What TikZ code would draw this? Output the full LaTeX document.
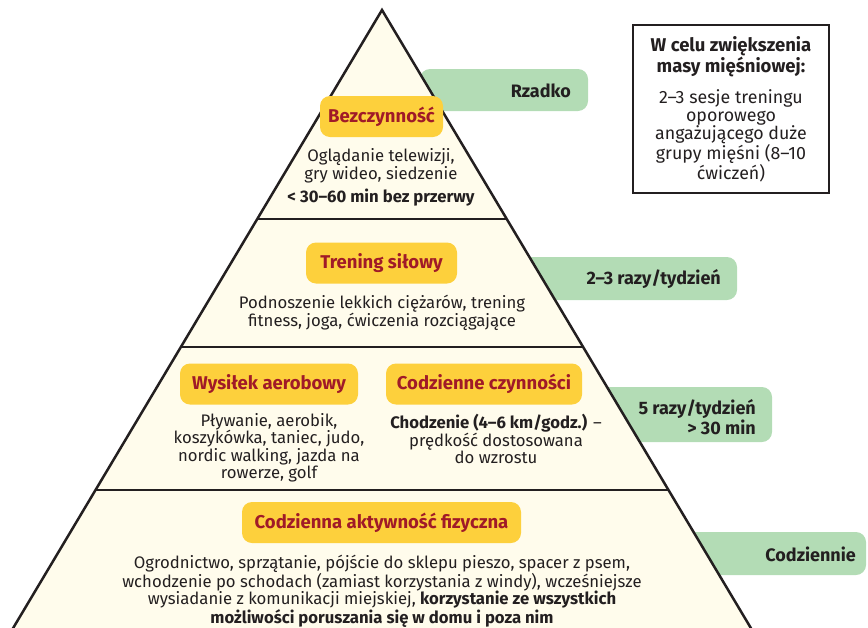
\documentclass[tikz,border=0pt]{standalone}
\usepackage{fontspec}
\setmainfont{Fira Sans}
\usetikzlibrary{calc}

\definecolor{cream}{RGB}{255,252,236}
\definecolor{pillyellow}{RGB}{253,208,60}
\definecolor{pilltext}{RGB}{160,26,40}
\definecolor{tabgreen}{RGB}{179,220,181}
\definecolor{ink}{RGB}{35,31,32}

\begin{document}
\begin{tikzpicture}[x=1pt, y=-1pt,
	pill/.style={fill=pillyellow, rounded corners=10pt, minimum height=41pt, inner sep=0pt, text=pilltext, font=\fontsize{18.5}{20}\selectfont\bfseries},
	body/.style={text=ink, align=center, inner sep=0pt, font=\fontsize{16.7}{17.5}\selectfont},
	tab/.style={fill=tabgreen, rounded corners=10pt},
	tablabel/.style={text=ink, anchor=east, align=right, inner sep=0pt, font=\fontsize{18}{19.5}\selectfont\bfseries},
	divider/.style={draw=ink, line width=2pt}]
	\useasboundingbox (0,0) rectangle (868,627);

	% frequency tabs, they sit under the pyramid
	\fill[tab] (420,69) rectangle (588,111);
	\fill[tab] (520,257) rectangle (737,300);
	\fill[tab] (600,387) rectangle (772,442);
	\fill[tab] (680,532) rectangle (866,575);
	\node[tablabel] (rzadko) at (571,91) {Rzadko};
	\node[tablabel] (dwaTrzy) at (721,279) {2–3 razy/tydzień};
	\node[tablabel] (piecRazy) at (756,417) {5 razy/tydzień\\> 30 min};
	\node[tablabel] (codziennie) at (856,554) {Codziennie};

	% pyramid
	\coordinate (top) at (382,10);
	\coordinate (bl) at (6,640);
	\coordinate (br) at (758,640);
	\draw[draw=ink, fill=cream, line width=2.5pt] (bl) -- (top) -- (br) -- cycle;
	\draw[divider] ($(top)!0.332!(bl)$) -- ($(top)!0.332!(br)$);
	\draw[divider] ($(top)!0.535!(bl)$) -- ($(top)!0.535!(br)$);
	\draw[divider] ($(top)!0.762!(bl)$) -- ($(top)!0.762!(br)$);

	% top level
	\node[pill, minimum width=123pt] (bezcz) at (381.5,116.5) {Bezczynność};
	\node[body] (bezczTxt) at (381,166) {Oglądanie telewizji,\\gry wideo, siedzenie};
	\node[body, font=\fontsize{16.7}{17.5}\selectfont\bfseries] (bezczLimit) at (381,198) {< 30–60 min bez przerwy};

	% second level
	\node[pill, minimum width=151pt] (trening) at (381.5,263) {Trening siłowy};
	\node[body] (treningTxt) at (382,313) {Podnoszenie lekkich ciężarów, trening\\fitness, joga, ćwiczenia rozciągające};

	% third level
	\node[pill, minimum width=178pt] (aerob) at (269,384) {Wysiłek aerobowy};
	\node[body] (aerobTxt) at (269,448) {Pływanie, aerobik,\\koszykówka, taniec, judo,\\nordic walking, jazda na\\rowerze, golf};
	\node[pill, minimum width=196pt] (czynn) at (484,384) {Codzienne czynności};
	\node[body] (czynnTxt) at (496,439) {\textbf{Chodzenie (4–6 km/godz.)} –\\prędkość dostosowana\\do wzrostu};

	% base
	\node[pill, minimum width=279pt] (codz) at (381.5,522.5) {Codzienna aktywność fizyczna};
	\node[body] (codzTxt) at (382,591) {Ogrodnictwo, sprzątanie, pójście do sklepu pieszo, spacer z psem,\\wchodzenie po schodach (zamiast korzystania z windy), wcześniejsze\\wysiadanie z komunikacji miejskiej, \textbf{korzystanie ze wszystkich}\\\textbf{możliwości poruszania się w domu i poza nim}};

	% side note
	\draw[draw=ink, line width=1.2pt] (633,25) rectangle (829,193);
	\node[body, font=\fontsize{18.5}{19}\selectfont\bfseries] (noteHead) at (731,57) {W celu zwiększenia\\masy mięśniowej:};
	\node[body, font=\fontsize{17.8}{18}\selectfont] (noteTxt) at (731,136) {2–3 sesje treningu\\oporowego\\angażującego duże\\grupy mięśni (8–10\\ćwiczeń)};
\end{tikzpicture}
\end{document}
